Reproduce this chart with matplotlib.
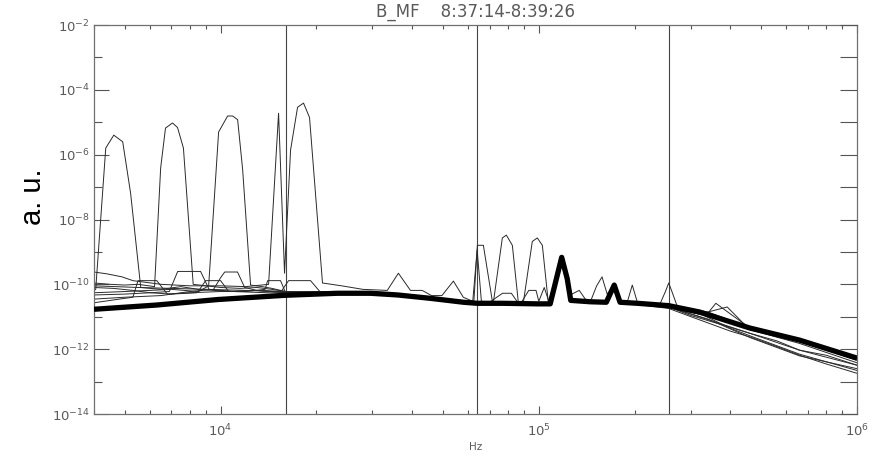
import matplotlib
matplotlib.use("Agg")
import matplotlib.pyplot as plt
from matplotlib.ticker import FixedLocator, NullFormatter, NullLocator

# ---------------- data ----------------
title_text = "B_MF    8:37:14-8:39:26"
x_label = "Hz"
y_label = "a. u."
marker_freqs = [16000, 64000, 256000]

y_major_ticks = [1e-2, 1e-4, 1e-6, 1e-8, 1e-10, 1e-12, 1e-14]
y_major_labels = [r"$10^{-2}$", r"$10^{-4}$", r"$10^{-6}$", r"$10^{-8}$",
                  r"$10^{-10}$", r"$10^{-12}$", r"$10^{-14}$"]
y_minor_ticks = [1e-3, 1e-5, 1e-7, 1e-9, 1e-11, 1e-13]
x_major_ticks = [1e4, 1e5, 1e6]
x_major_labels = [r"$10^{4}$", r"$10^{5}$", r"$10^{6}$"]

# thick (averaged, many overlapping) spectrum
thick_f = [4000, 6300, 9800, 16000, 23300, 29600, 36000, 45600, 58000, 64000,
           77000, 99000, 108600, 118000, 122800, 126000, 145000, 163000,
           172600, 180000, 204000, 256000, 320000, 460000, 660000, 1000000]
thick_v = [1.7e-11, 2.3e-11, 3.4e-11, 4.6e-11, 5.3e-11, 5.3e-11, 4.7e-11,
           3.7e-11, 2.8e-11, 2.6e-11, 2.6e-11, 2.5e-11, 2.5e-11, 6.8e-10,
           1.5e-10, 3.2e-11, 2.9e-11, 2.8e-11, 9.5e-11, 2.8e-11, 2.6e-11,
           2.2e-11, 1.4e-11, 4.5e-12, 1.9e-12, 5.3e-13]

# thin individual spectra
line1_f = [4000, 4050, 4355, 4615, 4923, 5213, 5610, 6500, 7500, 8500, 9500,
           11000, 13000, 16000, 20000, 26000, 34000, 45000, 58000, 70000,
           85000, 100000, 109000, 118000, 123000, 127000, 145000, 164000,
           172600, 181000, 210000, 256000, 300000, 380000, 460000, 560000,
           660000, 800000, 1000000]
line1_v = [6.5e-11, 7e-11, 1.6e-6, 4e-6, 2.5e-6, 6.5e-8, 8e-11, 7e-11, 8.5e-11,
           7e-11, 6.5e-11, 6e-11, 6.5e-11, 5.5e-11, 5.7e-11, 5.8e-11, 5.3e-11,
           4.2e-11, 3e-11, 2.8e-11, 2.7e-11, 2.6e-11, 2.7e-11, 6.2e-10,
           1.4e-10, 3.1e-11, 2.8e-11, 2.9e-11, 9e-11, 2.9e-11, 2.5e-11, 2.0e-11,
           1.1e-11, 5.5e-12, 3.1e-12, 1.8e-12, 9.3e-13, 6.5e-13, 3.2e-13]

line2_f = [4000, 4500, 5000, 5500, 6200, 6480, 6710, 7060, 7320, 7640, 8200,
           9000, 10000, 11500, 13000, 14500, 16000, 19000, 24000, 30000, 40000,
           52000, 64000, 80000, 100000, 109000, 118000, 123000, 127000, 150000,
           165000, 172600, 180000, 220000, 256000, 340000, 460000, 660000,
           1000000]
line2_v = [1.1e-10, 1.0e-10, 9.5e-11, 1.0e-10, 8.5e-11, 3.9e-7, 6.6e-6, 9.5e-6,
           6.9e-6, 1.6e-6, 1.0e-10, 9e-11, 8e-11, 7.5e-11, 8e-11, 7e-11, 6e-11,
           6e-11, 5.8e-11, 5.6e-11, 4.6e-11, 3.5e-11, 2.8e-11, 2.7e-11, 2.6e-11,
           2.6e-11, 6.5e-10, 1.6e-10, 3.0e-11, 2.8e-11, 3.0e-11, 1.0e-10,
           3.0e-11, 2.5e-11, 2.3e-11, 1.3e-11, 4.5e-12, 1.8e-12, 4.5e-13]

line3_f = [4000, 4600, 5300, 6000, 7000, 8400, 9170, 9856, 10520, 10906, 11310,
           11730, 12420, 13500, 14500, 16000, 19000, 24000, 32000, 42000, 55000,
           64000, 80000, 100000, 109000, 118000, 123000, 127000, 150000, 165000,
           172600, 180000, 256000, 310000, 400000, 460000, 560000, 660000,
           800000, 1000000]
line3_v = [8e-11, 7.5e-11, 6.5e-11, 5.5e-11, 5e-11, 5.5e-11, 9e-11, 5e-6,
           1.56e-5, 1.56e-5, 1.2e-5, 3.4e-7, 9.5e-11, 8.5e-11, 7.5e-11, 6e-11,
           5.5e-11, 5.5e-11, 5.4e-11, 4.3e-11, 3.2e-11, 2.8e-11, 2.6e-11,
           2.5e-11, 2.5e-11, 6e-10, 1.5e-10, 3.0e-11, 2.8e-11, 3e-11, 9e-11,
           2.8e-11, 1.8e-11, 9e-12, 3.6e-12, 2.4e-12, 1.2e-12, 6.5e-13, 3.5e-13,
           1.8e-13]

line4_f = [4000, 4400, 4900, 5300, 6500, 8000, 10000, 12000, 14150, 15210,
           15880, 16590, 17450, 18220, 19030, 20900, 24000, 28000, 33400,
           36200, 39500, 43000, 46000, 49600, 53900, 57900, 62000, 64000, 66000,
           80000, 100000, 109000, 118000, 123000, 127000, 150000, 165000,
           172600, 180000, 256000, 340000, 460000, 660000, 1000000]
line4_v = [2.4e-10, 2.1e-10, 1.7e-10, 1.3e-10, 1.0e-10, 9e-11, 9e-11, 8.5e-11,
           1.0e-10, 1.9e-5, 2.2e-10, 1.4e-6, 2.9e-5, 3.9e-5, 1.4e-5, 1.1e-10,
           9e-11, 7e-11, 6.5e-11, 2.2e-10, 6.5e-11, 6.5e-11, 4.5e-11, 4.5e-11,
           1.26e-10, 4e-11, 3e-11, 1.15e-9, 3e-11, 2.7e-11, 2.6e-11, 2.6e-11,
           6.4e-10, 1.5e-10, 3.1e-11, 2.9e-11, 3.0e-11, 9.5e-11, 2.9e-11,
           2.4e-11, 1.4e-11, 4.6e-12, 1.9e-12, 5e-13]

line5_f = [4000, 5000, 6000, 6900, 7330, 8650, 9200, 11000, 14000, 18000,
           24000, 32000, 45000, 58000, 62500, 64100, 66950, 71450, 80000,
           100000, 109000, 118000, 123000, 127000, 134000, 140000, 150000,
           165000, 172600, 180000, 256000, 330000, 460000, 660000, 1000000]
line5_v = [4.7e-11, 5e-11, 5.5e-11, 6e-11, 2.5e-10, 2.5e-10, 7e-11, 6e-11,
           5.5e-11, 5.2e-11, 5.4e-11, 5.3e-11, 3.9e-11, 3e-11, 3e-11, 1.6e-9,
           1.6e-9, 3e-11, 2.6e-11, 2.5e-11, 2.6e-11, 6.5e-10, 1.5e-10, 5e-11,
           6.5e-11, 3.5e-11, 2.8e-11, 3.0e-11, 9.5e-11, 2.9e-11, 2.0e-11,
           9e-12, 3.1e-12, 9.3e-13, 3.2e-13]

line6_f = [4000, 5000, 6500, 8000, 9500, 10000, 10300, 11300, 11900, 13000,
           16000, 20000, 26000, 35000, 45000, 58000, 70000, 72000, 76800,
           79060, 82570, 86220, 95000, 105000, 109000, 118000, 123000, 127000,
           150000, 165000, 172600, 180000, 256000, 330000, 400000, 460000,
           660000, 1000000]
line6_v = [3.5e-11, 4e-11, 4.5e-11, 6e-11, 7e-11, 1.6e-10, 2.4e-10, 2.4e-10,
           8e-11, 6.5e-11, 5.5e-11, 5.4e-11, 5.4e-11, 5e-11, 3.9e-11, 3e-11,
           2.8e-11, 2.8e-11, 2.7e-9, 3.3e-9, 1.6e-9, 2.8e-11, 2.6e-11, 2.5e-11,
           2.5e-11, 6.6e-10, 1.6e-10, 3.1e-11, 2.8e-11, 3.0e-11, 9.5e-11,
           2.9e-11, 2.1e-11, 1.1e-11, 4.4e-12, 2.6e-12, 7e-13, 2.2e-13]

line7_f = [4000, 4800, 5300, 5500, 6300, 6800, 8000, 10000, 12000, 13800,
           14050, 15430, 16000, 20000, 27000, 38000, 50000, 64000, 80000,
           89400, 95400, 98900, 102600, 107100, 118000, 123000, 127000, 145000,
           152000, 158000, 164000, 172600, 180000, 256000, 300000, 340000,
           360000, 460000, 660000, 1000000]
line7_v = [2.7e-11, 3.5e-11, 4e-11, 1.3e-10, 1.3e-10, 5e-11, 5.5e-11, 6e-11,
           6e-11, 7e-11, 1.3e-10, 1.3e-10, 5.5e-11, 5.3e-11, 5.4e-11, 4.6e-11,
           3.4e-11, 2.8e-11, 2.6e-11, 2.7e-11, 2.1e-9, 2.7e-9, 1.6e-9, 2.8e-11,
           6.3e-10, 1.5e-10, 3.1e-11, 2.8e-11, 9e-11, 1.7e-10, 5e-11, 9e-11,
           2.9e-11, 2.2e-11, 1.6e-11, 1.3e-11, 2.6e-11, 4.5e-12, 1.8e-12,
           4.8e-13]

line8_f = [4000, 5000, 6000, 7000, 8500, 8970, 10000, 10600, 12500, 15500,
           16350, 19170, 20500, 25000, 32000, 44000, 58000, 70000, 76900,
           82000, 86000, 100000, 109000, 118000, 123000, 127000, 150000, 165000,
           172600, 180000, 190000, 196700, 204000, 256000, 320000, 391000,
           460000, 660000, 1000000]
line8_v = [5.5e-11, 6e-11, 6.5e-11, 7e-11, 6e-11, 1.3e-10, 1.3e-10, 6e-11,
           6.5e-11, 6e-11, 1.3e-10, 1.3e-10, 6e-11, 5.6e-11, 5.4e-11, 4e-11,
           3e-11, 2.8e-11, 5.3e-11, 5.3e-11, 2.7e-11, 2.6e-11, 2.6e-11, 6.2e-10,
           1.5e-10, 3.0e-11, 2.8e-11, 3.0e-11, 9e-11, 3e-11, 3e-11, 9.5e-11,
           2.8e-11, 1.9e-11, 1.2e-11, 2e-11, 4e-12, 1.5e-12, 3.8e-13]

line9_f = [4000, 5500, 7000, 9000, 12000, 16000, 22000, 30000, 45000, 60000,
           88000, 93000, 98000, 100000, 104000, 108000, 118000, 123000, 127000,
           150000, 165000, 172600, 180000, 240000, 250000, 256000, 262000,
           275000, 340000, 460000, 660000, 1000000]
line9_v = [9e-11, 8e-11, 7.5e-11, 7e-11, 6.5e-11, 6e-11, 5.6e-11, 5.4e-11,
           4e-11, 3e-11, 2.7e-11, 6.5e-11, 6.5e-11, 3e-11, 8e-11, 2.6e-11,
           6.4e-10, 1.5e-10, 3.1e-11, 2.8e-11, 3.0e-11, 9.5e-11, 2.9e-11,
           2.4e-11, 6e-11, 1.1e-10, 6e-11, 1.6e-11, 8.5e-12, 2.3e-12, 6.2e-13,
           2.5e-13]

thin_lines = [(line1_f, line1_v), (line2_f, line2_v), (line3_f, line3_v),
              (line4_f, line4_v), (line5_f, line5_v), (line6_f, line6_v),
              (line7_f, line7_v), (line8_f, line8_v), (line9_f, line9_v)]

# ---------------- figure ----------------
W, H = 884, 462
fig = plt.figure(figsize=(W / 100, H / 100), dpi=100)
fig.patch.set_facecolor("white")
L, R, T, B = 94, 857, 25, 414
ax = fig.add_axes([L / W, 1 - B / H, (R - L) / W, (B - T) / H])
ax.set_xscale("log")
ax.set_yscale("log")
ax.set_xlim(4000, 1e6)
ax.set_ylim(1e-14, 1e-2)

grey = "#5a5a5a"

for fx in marker_freqs:
    ax.axvline(fx, color="#444444", lw=0.8, zorder=1)

for f, v in thin_lines:
    ax.plot(f, v, color="#2a2a2a", lw=0.7, zorder=2)

ax.plot(thick_f, thick_v, color="black", lw=3.8, zorder=3,
        solid_joinstyle="round", solid_capstyle="butt")

for sp in ax.spines.values():
    sp.set_color("#707070")
    sp.set_linewidth(0.9)

# y ticks (left)
ax.yaxis.set_major_locator(FixedLocator(y_major_ticks))
ax.yaxis.set_minor_locator(FixedLocator(y_minor_ticks))
ax.set_yticklabels(y_major_labels)
ax.yaxis.set_minor_formatter(NullFormatter())
# x ticks
ax.xaxis.set_major_locator(FixedLocator(x_major_ticks))
ax.set_xticklabels(x_major_labels)
ax.xaxis.set_minor_formatter(NullFormatter())

ax.tick_params(axis="y", which="major", direction="in", length=11, width=0.8,
               color="#555555", labelcolor=grey, labelsize=9.5, pad=3,
               left=True, right=False)
ax.tick_params(axis="y", which="minor", direction="in", length=5.5, width=0.8,
               color="#555555", left=True, right=False)
ax.tick_params(axis="x", which="major", direction="in", length=6, width=0.8,
               color="#555555", labelcolor=grey, labelsize=9.5, pad=6,
               top=True, bottom=True)
ax.tick_params(axis="x", which="minor", direction="in", length=3, width=0.8,
               color="#555555", top=True, bottom=True)

# right side ticks: every decade
ax2 = ax.twinx()
ax2.set_yscale("log")
ax2.set_ylim(1e-14, 1e-2)
ax2.yaxis.set_major_locator(FixedLocator(sorted(y_major_ticks + y_minor_ticks)))
ax2.yaxis.set_minor_locator(NullLocator())
ax2.set_yticklabels([])
ax2.tick_params(axis="y", which="major", direction="in", length=12, width=0.8,
                color="#555555", right=True, left=False)
for sp in ax2.spines.values():
    sp.set_visible(False)

fig.text((L + R) / 2 / W, 1 - 12 / H, title_text, ha="center", va="center",
         fontsize=12, color=grey, family="DejaVu Sans")
fig.text((L + R) / 2 / W, 1 - 447 / H, x_label, ha="center", va="center",
         fontsize=7.5, color=grey, family="DejaVu Sans")
fig.text(33 / W, 1 - 197 / H, y_label, ha="center", va="center",
         rotation=90, fontsize=21, color="black", family="Liberation Sans")

fig.savefig("out.png", dpi=100, facecolor="white")
